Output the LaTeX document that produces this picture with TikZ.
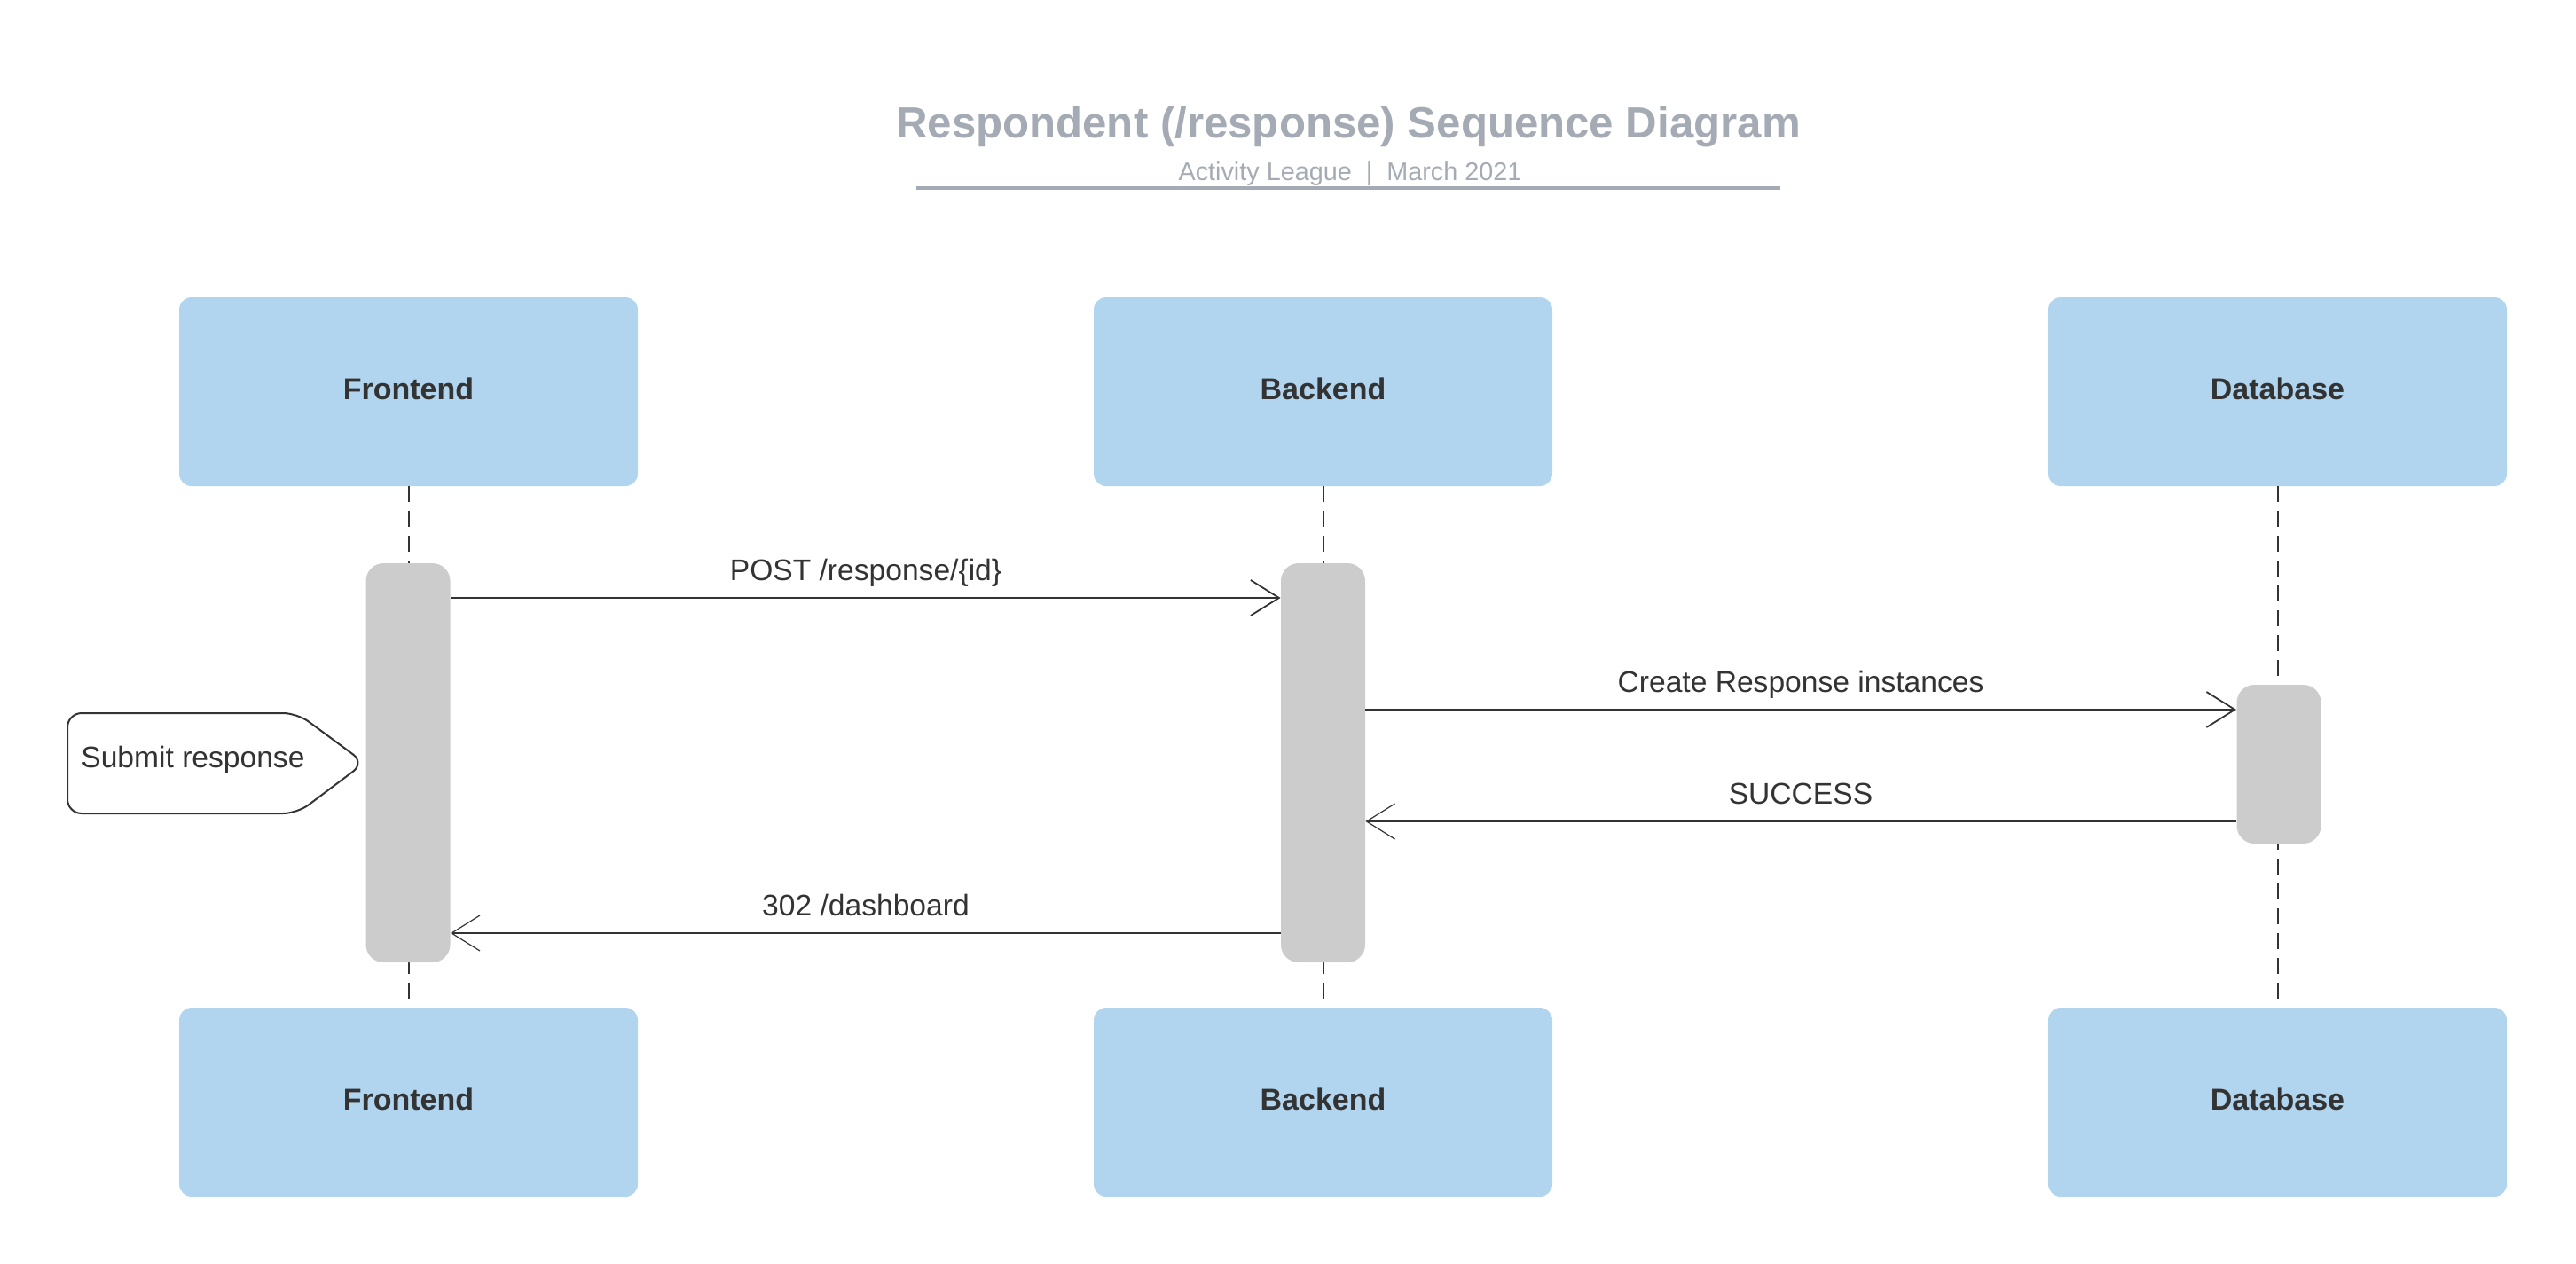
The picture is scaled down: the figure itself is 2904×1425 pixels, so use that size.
\documentclass[tikz,border=0pt]{standalone}
\usepackage{fontspec}
\setmainfont{Liberation Sans}
\usetikzlibrary{arrows.meta}
\definecolor{boxblue}{HTML}{B2D5EF}
\definecolor{actgray}{HTML}{CCCCCC}
\definecolor{ink}{HTML}{333333}
\definecolor{titlegray}{HTML}{A5ABB5}
\tikzset{
  actor/.style={fill=boxblue, rounded corners=7pt, minimum width=258.5pt, minimum height=106.5pt, inner sep=0pt, text height=8.5pt, text depth=0pt, text=ink, font=\fontsize{17pt}{20pt}\selectfont\bfseries},
  actbar/.style={fill=actgray, rounded corners=10pt, minimum width=47.5pt, inner sep=0pt},
  lifeline/.style={draw=ink, line width=1pt, dash pattern=on 9pt off 5pt},
  msg/.style={draw=ink, line width=0.9pt, -{Straight Barb[length=16pt,width=20pt,line width=0.9pt]}},
  ret/.style={draw=ink, line width=0.6pt, -{Straight Barb[length=16pt,width=20pt,line width=0.6pt]}},
  msglabel/.style={text=ink, anchor=base, inner sep=0pt, font=\fontsize{16.8pt}{20pt}\selectfont},
}
\begin{document}
\begin{tikzpicture}[x=0.5pt, y=-0.5pt]
\useasboundingbox (0,0) rectangle (2904,1425);
% title
\node[anchor=base, inner sep=0pt, text=titlegray, font=\fontsize{24.6pt}{28pt}\selectfont\bfseries] (title) at (1520,155) {Respondent (/response) Sequence Diagram};
\node[anchor=base, inner sep=0pt, text=titlegray, font=\fontsize{14.4pt}{17pt}\selectfont] (subtitle) at (1522,203) {Activity League~~|~~March 2021};
\coordinate (ulL) at (1033,212);
\coordinate (ulR) at (2007,212);
\draw[titlegray, line width=2pt] (ulL) -- (ulR);
% actors
\node[actor] (ft) at (460.5,441.5) {Frontend};
\node[actor] (bt) at (1491.5,441.5) {Backend};
\node[actor] (dt) at (2567.5,441.5) {Database};
\node[actor] (fb) at (460.5,1242.5) {Frontend};
\node[actor] (bb) at (1491.5,1242.5) {Backend};
\node[actor] (db) at (2567.5,1242.5) {Database};
% lifelines
\draw[lifeline] (ft.south) -- (fb.north);
\draw[lifeline] (bt.south) -- (bb.north);
\draw[lifeline] (dt.south) -- (db.north);
% activation bars
\node[actbar, minimum height=225pt] (fa) at (460,860) {};
\node[actbar, minimum height=225pt] (ba) at (1491.5,860) {};
\node[actbar, minimum height=89.5pt] (da) at (2569,861.5) {};
% messages
\draw[msg] (fa.east |- 0,674) -- (ba.west |- 0,674);
\node[msglabel] (l1) at (976,654) {POST /response/\{id\}};
\draw[msg] (ba.east |- 0,800) -- (da.west |- 0,800);
\node[msglabel] (l2) at (2030,780) {Create Response instances};
\draw[ret] (da.west |- 0,926) -- (ba.east |- 0,926);
\node[msglabel] (l3) at (2030,906) {SUCCESS};
\draw[ret] (ba.west |- 0,1052) -- (fa.east |- 0,1052);
\node[msglabel] (l4) at (976,1032) {302 /dashboard};
% note
\draw[ink, line width=1pt, fill=white, rounded corners=8pt] (76,860) -- (76,804) -- (335,804) -- (411,860) -- (335,917) -- (76,917) -- cycle;
\node[anchor=west, inner sep=0pt, text=ink, font=\fontsize{16.8pt}{20pt}\selectfont] (note) at (91,857) {Submit response};
\end{tikzpicture}
\end{document}
